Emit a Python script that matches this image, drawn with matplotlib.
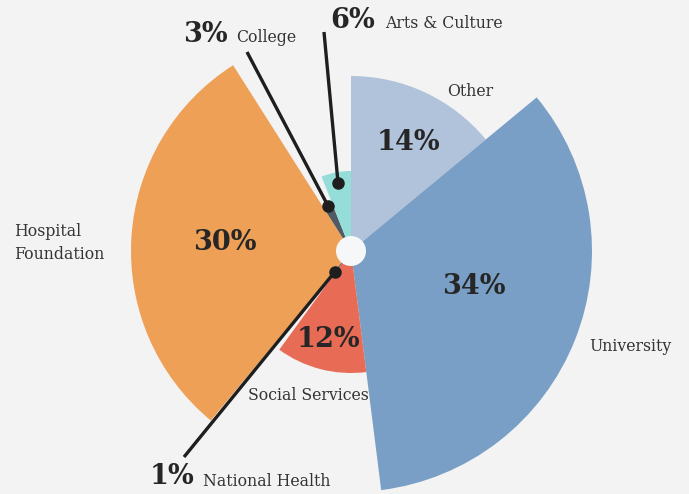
import numpy as np
import matplotlib
matplotlib.use("Agg")
import matplotlib.pyplot as plt

# ---- data ----
categories = ["Other", "University", "Social Services", "National Health",
              "Hospital Foundation", "College", "Arts & Culture"]
shares = [14, 34, 12, 1, 30, 3, 6]
radii = [175, 241, 122, 26, 220, 48, 80]
colors = ["#b0c3da", "#7a9fc6", "#e86b56", "#4f5a62", "#eea057", "#4f5a62", "#94ddd8"]

W, H = 689, 494
CX, CY = 351, 251
R = 270
BG = "#f3f3f3"

fig = plt.figure(figsize=(W / 100, H / 100), dpi=100, facecolor=BG)
ax = fig.add_axes([(CX - R) / W, (H - CY - R) / H, 2 * R / W, 2 * R / H],
                  projection="polar")
ax.set_theta_zero_location("N")
ax.set_theta_direction(-1)
ax.set_ylim(0, R)
ax.axis("off")
ax.patch.set_alpha(0)

fracs = np.array(shares) / sum(shares)
starts = np.concatenate([[0], np.cumsum(fracs)[:-1]]) * 2 * np.pi
widths = fracs * 2 * np.pi
ax.bar(starts, radii, width=widths, align="edge", color=colors, linewidth=0)
mids = starts + widths / 2

# centre hole
ax.bar(0, 15, width=2 * np.pi, color="#f6f7f9", linewidth=0, zorder=7)

# overlay for text in pixel coords
tx = fig.add_axes([0, 0, 1, 1])
tx.set_xlim(0, W)
tx.set_ylim(H, 0)
tx.axis("off")
tx.patch.set_alpha(0)

# leader lines with dots for small slices: (dot radius, label anchor px)
leaders = {6: (69, (324, 32)), 5: (50, (247, 52)), 3: (26, (184, 457))}
for i, (r0, (ex, ey)) in leaders.items():
    dx = CX + r0 * np.sin(mids[i])
    dy = CY - r0 * np.cos(mids[i])
    tx.plot([dx, ex], [dy, ey], color="#1e1e1e", lw=2.4,
            solid_capstyle="butt", zorder=5)
    tx.plot([dx], [dy], "o", color="#1e1e1e", ms=8, zorder=6)

serif = "DejaVu Serif"
big = dict(fontsize=19.5, fontweight="bold", color="#262626", family=serif,
           ha="center", va="center")
small = dict(fontsize=11.3, color="#333333", family=serif, va="center")

pct = [f"{s}%" for s in shares]
# inside percentages
tx.text(408, 142, pct[0], **big)
tx.text(474, 286, pct[1], **big)
tx.text(329, 339, pct[2], **big)
tx.text(225, 242, pct[4], **big)
# outside percentages for small slices
tx.text(353, 20, pct[6], **big)
tx.text(205, 34, pct[5], **big)
tx.text(172, 476, pct[3], **big)

tx.text(385, 24, categories[6], ha="left", **small)
tx.text(236, 38, categories[5], ha="left", **small)
tx.text(203, 481, categories[3], ha="left", **small)
tx.text(470, 91, categories[0], ha="center", **small)
tx.text(630, 346, categories[1], ha="center", **small)
tx.text(308, 395, categories[2], ha="center", **small)
tx.text(14, 243, "Hospital\nFoundation", ha="left", linespacing=1.5, **small)

fig.savefig("out.png", dpi=100, facecolor=BG)
